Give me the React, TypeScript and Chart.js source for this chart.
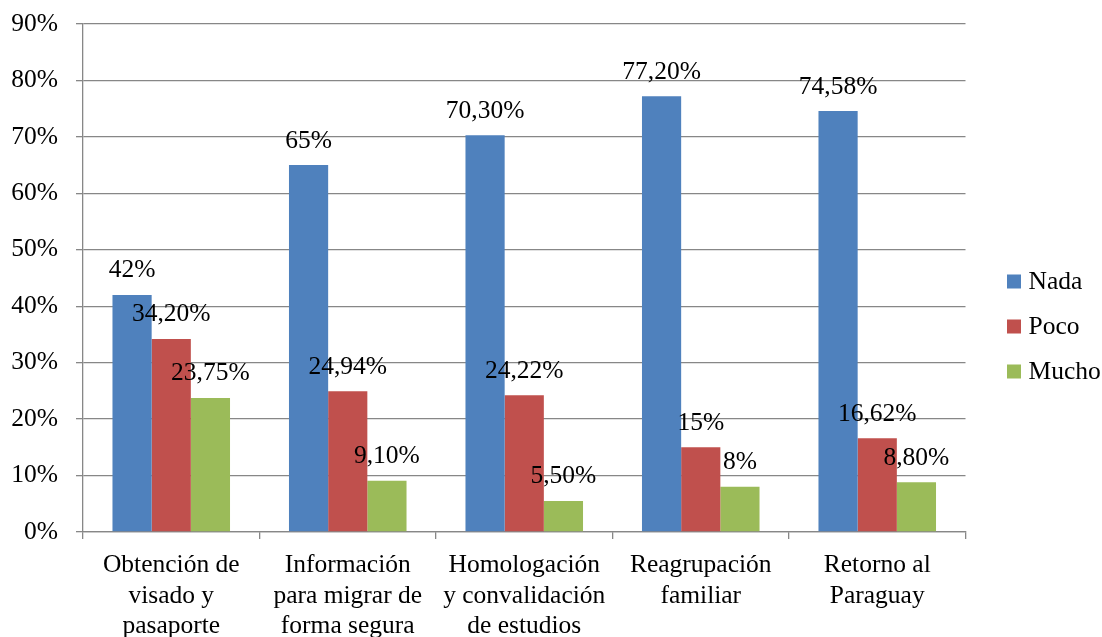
import React, { useEffect, useRef } from "react";
import { Chart, registerables } from "chart.js";

Chart.register(...registerables);

const categories: string[][] = [
  ["Obtención de", "visado y", "pasaporte"],
  ["Información", "para migrar de", "forma segura"],
  ["Homologación", "y convalidación", "de estudios"],
  ["Reagrupación", "familiar"],
  ["Retorno al", "Paraguay"],
];
const seriesNames = ["Nada", "Poco", "Mucho"];
const nadaValues = [42, 65, 70.3, 77.2, 74.58];
const pocoValues = [34.2, 24.94, 24.22, 15, 16.62];
const muchoValues = [23.75, 9.1, 5.5, 8, 8.8];
const seriesColors = ["#4F81BD", "#C0504D", "#9BBB59"];
const yMin = 0;
const yMax = 90;
const yStep = 10;

const FONT = '"Liberation Serif", "Times New Roman", serif';
const FONT_SIZE = 25.5;
const GRID = "#878787";

const fmt = (v: number) =>
  (Number.isInteger(v) ? String(v) : v.toFixed(2).replace(".", ",")) + "%";

const dataLabelPlugin = {
  id: "dataLabels",
  afterDatasetsDraw(chart: any) {
    const ctx = chart.ctx;
    ctx.save();
    ctx.font = `${FONT_SIZE}px ${FONT}`;
    ctx.fillStyle = "#000";
    ctx.textAlign = "center";
    ctx.textBaseline = "alphabetic";
    chart.data.datasets.forEach((ds: any, i: number) => {
      const meta = chart.getDatasetMeta(i);
      meta.data.forEach((el: any, j: number) => {
        ctx.fillText(fmt(ds.data[j]), el.x, el.y - 17.5);
      });
    });
    ctx.restore();
  },
};

const legendPlugin = {
  id: "sideLegend",
  afterDraw(chart: any) {
    const ctx = chart.ctx;
    ctx.save();
    ctx.font = `${FONT_SIZE}px ${FONT}`;
    ctx.textAlign = "left";
    ctx.textBaseline = "middle";
    const x0 = chart.chartArea.right + 41.5;
    const yMid = 326.5;
    const gap = 45;
    const n = chart.data.datasets.length;
    chart.data.datasets.forEach((ds: any, i: number) => {
      const cy = yMid + (i - (n - 1) / 2) * gap;
      ctx.fillStyle = ds.backgroundColor;
      ctx.fillRect(x0, cy - 7, 14, 14);
      ctx.fillStyle = "#000";
      ctx.fillText(ds.label, x0 + 21.5, cy + 1);
    });
    ctx.restore();
  },
};

export default function App() {
  const ref = useRef<HTMLCanvasElement | null>(null);
  useEffect(() => {
    if (!ref.current) return;
    const allValues = [nadaValues, pocoValues, muchoValues];
    const chart = new Chart(ref.current, {
      type: "bar",
      data: {
        labels: categories,
        datasets: seriesNames.map((name, i) => ({
          label: name,
          data: allValues[i],
          backgroundColor: seriesColors[i],
          borderWidth: 0,
          categoryPercentage: 0.666,
          barPercentage: 1,
        })),
      },
      options: {
        animation: false,
        responsive: false,
        maintainAspectRatio: false,
        layout: { padding: { top: 24, right: 136.5, bottom: 0, left: 0 } },
        plugins: {
          legend: { display: false },
          tooltip: { enabled: false },
        },
        scales: {
          x: {
            grid: {
              display: true,
              drawOnChartArea: false,
              drawTicks: true,
              tickLength: 7,
              color: GRID,
              lineWidth: 1.3,
              offset: true,
            },
            border: { display: true, color: GRID, width: 1.3 },
            ticks: {
              font: { family: FONT, size: FONT_SIZE, lineHeight: 1.2 },
              color: "#000",
              padding: 11,
              maxRotation: 0,
              autoSkip: false,
            },
            afterFit: (s: any) => {
              s.height = 105;
            },
          },
          y: {
            min: yMin,
            max: yMax,
            ticks: {
              stepSize: yStep,
              callback: (v: any) => `${v}%`,
              font: { family: FONT, size: FONT_SIZE },
              color: "#000",
              padding: 18,
            },
            grid: { color: GRID, lineWidth: 1.3, tickLength: 7, drawTicks: true },
            border: { display: true, color: GRID, width: 1.3 },
            afterFit: (s: any) => {
              s.width = 83;
              s.paddingTop = 0;
              s.paddingBottom = 0;
            },
          },
        },
      },
      plugins: [dataLabelPlugin, legendPlugin],
    });
    return () => chart.destroy();
  }, []);
  return (
    <div style={{ position: "fixed", left: 0, top: 0, width: 1102, height: 637, background: "#fff" }}>
      <canvas ref={ref} width={1102} height={637} style={{ display: "block" }} />
    </div>
  );
}
